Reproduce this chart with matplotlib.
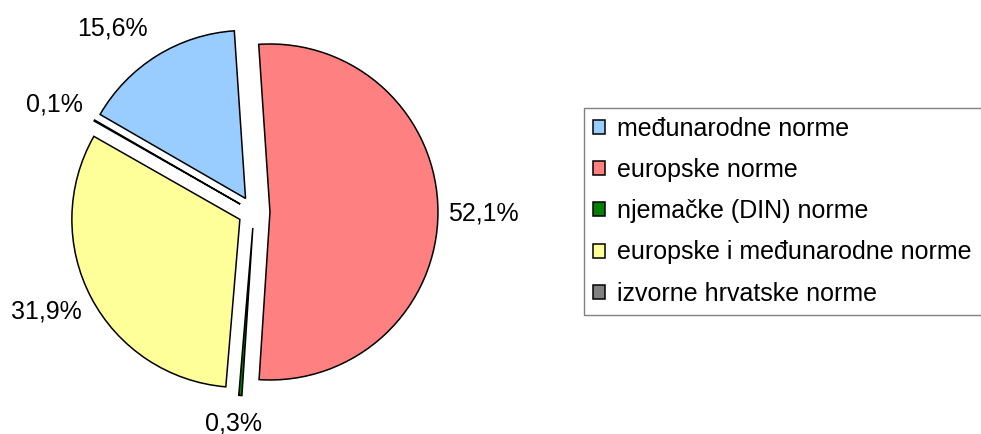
import numpy as np
import matplotlib.pyplot as plt
from matplotlib.patches import Rectangle

plt.rcParams['font.family'] = ['Liberation Sans', 'DejaVu Sans']

# data
categories = ['međunarodne norme', 'europske norme', 'njemačke (DIN) norme',
              'europske i međunarodne norme', 'izvorne hrvatske norme']
shares = [15.6, 52.1, 0.3, 31.9, 0.1]
colors = ['#99CCFF', '#FF8080', '#008000', '#FFFF99', '#808080']

# label placement (radius units from exploded wedge centre, angle offset in deg)
label_dist = [1.285, 1.27, 1.17, 1.277, 1.254]
label_dang = [6.1, -0.5, -1.4, -2.3, 1.6]

W, H = 981, 434
R_PX = 168.0          # pie radius in pixels
CX, CY = 254, 212     # pie centre (pixels, from top-left)

fig = plt.figure(figsize=(W / 100, H / 100), dpi=100)
ax = fig.add_axes([0, 0, 1, 1])

wedges, texts, autotexts = ax.pie(
    shares, colors=colors, startangle=150, counterclock=False,
    explode=[0.095] * len(shares), radius=1.0,
    autopct=lambda p: f"{p:.1f}%".replace('.', ','),
    wedgeprops=dict(edgecolor='black', linewidth=1.1),
    textprops=dict(fontsize=18, color='black'))

for w, t, d, da in zip(wedges, autotexts, label_dist, label_dang):
    mid = np.deg2rad((w.theta1 + w.theta2) / 2 + da)
    cx, cy = w.center
    t.set_position((cx + d * np.cos(mid), cy + d * np.sin(mid)))
    t.set_ha('center')
    t.set_va('center')

ax.set_xlim(-CX / R_PX, (W - CX) / R_PX)
ax.set_ylim(-(H - CY) / R_PX, CY / R_PX)
ax.set_aspect('equal')
ax.axis('off')

leg = fig.legend(wedges, categories, loc='upper left',
                 bbox_to_anchor=(584 / W, 1 - 108 / H), borderaxespad=0,
                 fontsize=18, frameon=False,
                 handlelength=0.48, handleheight=0.48, handletextpad=0.5,
                 labelspacing=0.69, borderpad=0.35)

# legend frame runs past the right edge of the picture
fig.canvas.draw()
bb = leg.get_window_extent()
fig.patches.append(Rectangle((bb.x0 / W, bb.y0 / H), 1.2, bb.height / H,
                             transform=fig.transFigure, fill=False,
                             edgecolor='#808080', linewidth=1.0))

fig.savefig('out.png', dpi=100)
